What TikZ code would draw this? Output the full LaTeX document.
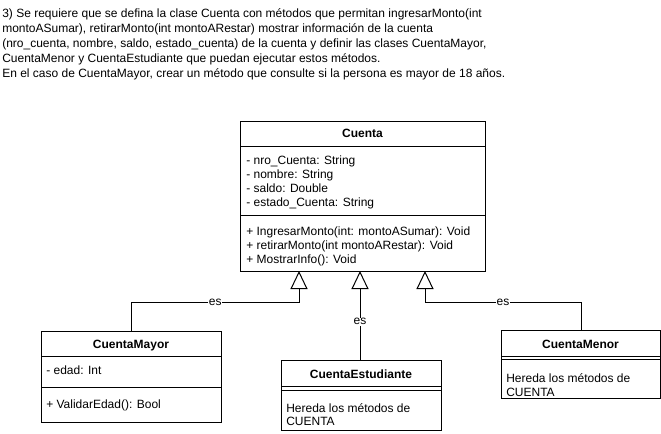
\documentclass[tikz,border=0pt]{standalone}
\usepackage{fontspec}
\setmainfont{Liberation Sans}
\usetikzlibrary{arrows.meta}
\begin{document}
\begin{tikzpicture}[x=0.75pt,y=-0.75pt,
  every node/.style={font=\fontsize{9pt}{10.8pt}\selectfont, inner sep=0pt},
  box/.style={draw, line width=0.75pt, anchor=north west, rectangle},
  txt/.style={anchor=base west},
  ttl/.style={font=\fontsize{9pt}{10.8pt}\selectfont\bfseries, anchor=base},
  lbl/.style={fill=white, inner sep=0.5pt},
  inh/.style={line width=0.75pt, -{Triangle[open, length=13.5pt, width=12.75pt, line width=0.75pt]}},
  sep/.style={line width=0.75pt}]
\useasboundingbox (0,0) rectangle (661,433);
% problem statement
\node[txt] (p1) at (2,17) {3) Se requiere que se defina la clase Cuenta con métodos que permitan ingresarMonto(int};
\node[txt] (p2) at (2,32) {montoASumar), retirarMonto(int montoARestar) mostrar información de la cuenta};
\node[txt] (p3) at (2,47) {(nro\_cuenta, nombre, saldo, estado\_cuenta) de la cuenta y definir las clases CuentaMayor,};
\node[txt] (p4) at (2,62) {CuentaMenor y CuentaEstudiante que puedan ejecutar estos métodos.};
\node[txt] (p5) at (2,77) {En el caso de CuentaMayor, crear un método que consulte si la persona es mayor de 18 años.};
% Cuenta
\node[box, minimum width=183.75pt, minimum height=112.5pt] (cuenta) at (240,121) {};
\draw[sep] (240,146) -- (485,146);
\draw[sep] (240,215) -- (485,215);
\node[ttl] (cuentaT) at (362.5,137) {Cuenta};
\node[txt] (c1) at (246,164) {- nro\_Cuenta: String};
\node[txt] (c2) at (246,178) {- nombre: String};
\node[txt] (c3) at (246,192) {- saldo: Double};
\node[txt] (c4) at (246,206) {- estado\_Cuenta: String};
\node[txt] (c5) at (246,235) {+ IngresarMonto(int: montoASumar): Void};
\node[txt] (c6) at (246,249) {+ retirarMonto(int montoARestar): Void};
\node[txt] (c7) at (246,263) {+ MostrarInfo(): Void};
% CuentaMayor
\node[box, minimum width=135pt, minimum height=68.25pt] (mayor) at (41,331) {};
\draw[sep] (41,356) -- (221,356);
\draw[sep] (41,387) -- (221,387);
\node[ttl] (mayorT) at (131,348) {CuentaMayor};
\node[txt] (m1) at (46,374) {- edad: Int};
\node[txt] (m2) at (46,408) {+ ValidarEdad(): Bool};
% CuentaEstudiante
\node[box, minimum width=120pt, minimum height=52.5pt] (est) at (281,360) {};
\draw[sep] (281,386) -- (441,386);
\draw[sep] (281,390) -- (441,390);
\node[ttl] (estT) at (361,378) {CuentaEstudiante};
\node[txt] (e1) at (286,412) {Hereda los métodos de};
\node[txt] (e2) at (286,425) {CUENTA};
% CuentaMenor
\node[box, minimum width=119.25pt, minimum height=51pt] (menor) at (501,330) {};
\draw[sep] (501,356) -- (660,356);
\draw[sep] (501,359.5) -- (660,359.5);
\node[ttl] (menorT) at (580.5,348) {CuentaMenor};
\node[txt] (n1) at (506,382) {Hereda los métodos de};
\node[txt] (n2) at (506,396) {CUENTA};
% connectors
\coordinate (tA) at (299,271);
\coordinate (bA) at (299,302);
\coordinate (tM) at (360,271);
\coordinate (tR) at (425,271);
\coordinate (bR) at (425,302);
\draw[inh] (mayor.north) |- node[lbl, pos=0.75] {es} (bA) -- (tA);
\draw[inh] (est.north -| tM) -- node[lbl, pos=0.43] {es} (tM);
\draw[inh] (menor.north) |- node[lbl, pos=0.75] {es} (bR) -- (tR);
\end{tikzpicture}
\end{document}
